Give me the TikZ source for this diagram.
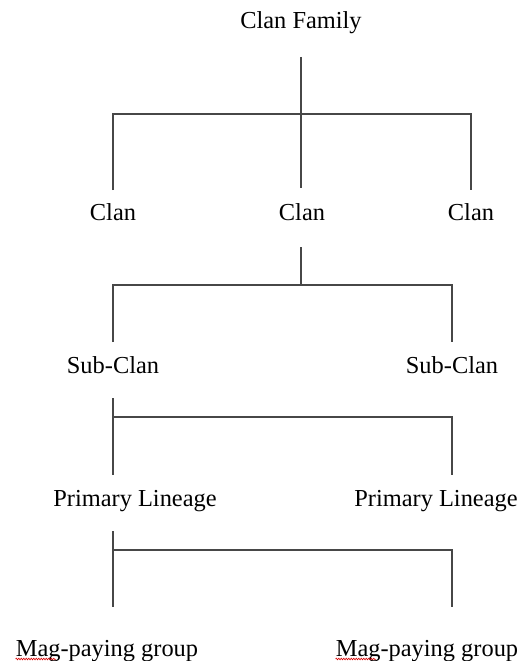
\documentclass[tikz,border=0pt]{standalone}
\usepackage{fontspec}
\setmainfont{Liberation Serif}
\usetikzlibrary{decorations.pathmorphing}
\begin{document}
\begin{tikzpicture}[x=1pt,y=-1pt,
  lbl/.style={anchor=base,inner sep=0pt,font=\fontsize{24.4}{27}\selectfont},
  link/.style={draw=black!72,line width=1.8pt},
  squig/.style={draw=red!85!black,line width=0.6pt,decorate,decoration={zigzag,amplitude=0.8pt,segment length=2.5pt}}]
\useasboundingbox[fill=white] (0,0) rectangle (527,661);
% labels
\node[lbl] (cf) at (301,29) {Clan Family};
\node[lbl] (c1) at (113,220) {Clan};
\node[lbl] (c2) at (302,220) {Clan};
\node[lbl] (c3) at (471,220) {Clan};
\node[lbl] (s1) at (113,373) {Sub-Clan};
\node[lbl] (s2) at (452,373) {Sub-Clan};
\node[lbl] (p1) at (135,506) {Primary Lineage};
\node[lbl] (p2) at (436,506) {Primary Lineage};
\node[lbl] (m1) at (107,656) {Mag-paying group};
\node[lbl] (m2) at (427,656) {Mag-paying group};
% joints
\coordinate (a1) at (301,57);
\coordinate (a2) at (301,188);
\coordinate (b1) at (301,247);
\coordinate (d1) at (113,398);
\coordinate (e1) at (113,531);
% level 1
\draw[link] (a1) -- (a2);
\draw[link] (c1 |- 0,190) -- (c1 |- 0,114) -- (c3 |- 0,114) -- (c3 |- 0,190);
% level 2
\draw[link] (b1) -- (301,285);
\draw[link] (s1 |- 0,342) -- (s1 |- 0,285) -- (s2 |- 0,285) -- (s2 |- 0,342);
% level 3
\draw[link] (d1) -- (113,475);
\draw[link] (113,417) -- (452,417) -- (452,475);
% level 4
\draw[link] (e1) -- (113,607);
\draw[link] (113,550) -- (452,550) -- (452,607);
% spell-check underlines
\draw[squig] (m1.base west) ++(0,3) -- ++(40,0);
\draw[squig] (m2.base west) ++(0,3) -- ++(40,0);
\end{tikzpicture}
\end{document}
